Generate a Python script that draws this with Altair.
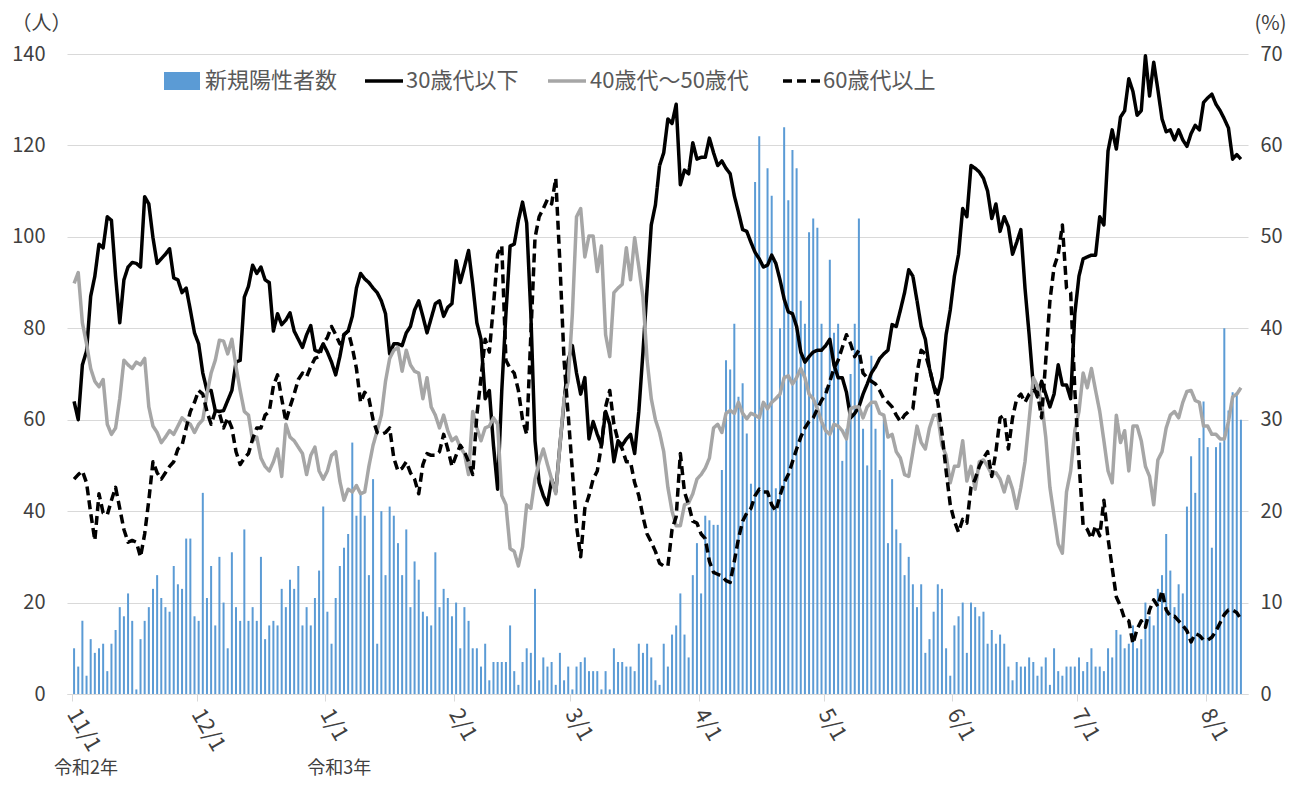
import altair as alt
import pandas as pd

# ---- data (daily, 2020-11-01 .. 2021-08-09) ----
new_cases = [
    10, 6, 16, 4, 12, 9, 10, 11, 5, 11,
    14, 19, 17, 22, 16, 1, 12, 16, 19, 23,
    26, 21, 19, 18, 28, 24, 23, 34, 34, 17,
    16, 44, 21, 28, 15, 30, 20, 10, 31, 19,
    16, 36, 16, 19, 16, 30, 12, 15, 16, 15,
    23, 19, 25, 23, 28, 15, 19, 15, 21, 27,
    41, 18, 11, 21, 28, 32, 35, 55, 39, 44,
    39, 26, 47, 11, 40, 26, 41, 39, 33, 26,
    36, 19, 29, 25, 18, 17, 15, 31, 19, 23,
    21, 17, 20, 10, 19, 16, 10, 10, 6, 11,
    3, 7, 7, 7, 7, 15, 5, 2, 7, 10,
    9, 23, 3, 8, 6, 7, 2, 9, 3, 6,
    1, 6, 7, 8, 5, 5, 5, 1, 5, 1,
    10, 7, 7, 6, 6, 5, 11, 9, 11, 8,
    3, 2, 11, 6, 13, 15, 22, 13, 8, 26,
    33, 22, 39, 38, 37, 37, 49, 73, 71, 81,
    65, 68, 57, 46, 112, 122, 63, 115, 109, 45,
    80, 124, 108, 119, 115, 86, 81, 101, 104, 102,
    81, 67, 95, 79, 81, 51, 58, 70, 81, 104,
    58, 50, 74, 58, 49, 60, 33, 47, 36, 33,
    26, 30, 24, 19, 24, 9, 12, 18, 24, 23,
    10, 4, 15, 17, 20, 9, 20, 19, 17, 18,
    11, 14, 11, 13, 11, 6, 3, 7, 6, 6,
    8, 7, 4, 6, 8, 2, 10, 5, 4, 6,
    6, 6, 8, 5, 7, 10, 6, 6, 5, 10,
    8, 14, 13, 10, 11, 15, 10, 12, 20, 17,
    15, 23, 26, 35, 27, 19, 24, 22, 41, 52,
    44, 56, 64, 54, 32, 54, 55, 80, 62, 66,
    66, 60,
]

under30 = [
    32, 30, 36, 37.5, 43.5, 45.7, 49.2, 48.8, 52.2, 51.8,
    45.7, 40.6, 45.3, 46.7, 47.2, 47.1, 46.7, 54.4, 53.6, 49.9,
    47.1, 47.6, 48.1, 48.7, 45.5, 45.3, 43.9, 44.4, 42, 39.5,
    38.3, 35.1, 33.2, 33.2, 31, 30.9, 31, 32.1, 33.2, 36.3,
    36.5, 43.4, 44.6, 46.9, 46, 46.7, 45.3, 45, 39.7, 41.6,
    40.4, 40.9, 41.7, 39.7, 38.8, 37.9, 39.3, 40.3, 37.6, 37.4,
    38.3, 37.4, 36.3, 34.9, 36.9, 39.3, 39.7, 41.3, 44.4, 46,
    45.4, 45, 44.4, 43.9, 43, 41.6, 37.2, 38.3, 38.3, 38.1,
    39.5, 40.2, 42, 43, 41.3, 39.5, 41.1, 42.7, 43, 41.3,
    42.3, 42.7, 47.4, 45, 46.7, 48.5, 44.8, 40.6, 38.8, 32.3,
    33.2, 27.2, 22.4, 33.2, 41.6, 49, 49.2, 51.8, 53.8, 51.5,
    41.6, 27.7, 23.1, 21.7, 20.7, 23.5, 22.1, 27.2, 31.9, 36.5,
    38.1, 35.1, 32.8, 34.6, 27.9, 29.8, 28.4, 27.2, 30.9, 29.5,
    25.4, 27.7, 27.2, 27.9, 28.4, 26.3, 30.9, 37.4, 44.4, 51.3,
    53.5, 57.8, 59.2, 62.9, 62.4, 64.5, 55.7, 57.3, 56.9, 60.3,
    58.5, 58.7, 58.7, 60.8, 59.2, 57.8, 58.3, 57.5, 56.9, 54.5,
    52.7, 50.8, 50.6, 49.4, 48.3, 47.6, 46.7, 46.9, 48, 47.1,
    45.3, 43.2, 41.8, 41.6, 40.2, 37.4, 36.3, 36.9, 37.4, 37.6,
    37.6, 38.1, 38.8, 36, 34.6, 34.6, 33, 30.2, 30.7, 31.4,
    32.8, 33.9, 35.1, 35.8, 36.7, 37.2, 37.6, 40.4, 40.2, 42,
    43.9, 46.4, 45.7, 43, 40.2, 38.8, 35.6, 33.7, 32.8, 34.6,
    39.3, 42, 45.7, 48.1, 53.1, 52.2, 57.8, 57.5, 57.1, 56.4,
    55, 52, 53.6, 50.6, 52.2, 51.1, 48.1, 49.4, 50.8, 44.4,
    39.3, 33.7, 32.5, 34.2, 32.8, 31.4, 32.8, 36, 33.8, 33.8,
    32.3, 41.6, 45.7, 47.6, 47.8, 48, 48, 52.2, 51.3, 59.4,
    61.7, 59.6, 63.1, 63.8, 67.3, 65.9, 63.3, 63.8, 69.8, 65.4,
    69.1, 66.1, 62.9, 61.5, 61.7, 60.6, 61.7, 60.6, 59.9, 61.3,
    62.2, 61.7, 64.7, 65.2, 65.6, 64.5, 63.8, 62.9, 61.9, 58.5,
    59, 58.5,
]

age40_50 = [
    44.9, 46.1, 40.6, 38.3, 35.6, 34.2, 33.6, 34.4, 29.5, 28.4,
    29.1, 32.3, 36.5, 36, 35.6, 36.3, 36, 36.7, 31.4, 29.3,
    28.6, 27.5, 28.1, 28.8, 28.4, 29.3, 30.2, 29.8, 29.5, 28.6,
    29.5, 30, 32.8, 35.1, 36.5, 38.7, 38.6, 37.2, 38.8, 35.8,
    33.2, 30.9, 30.5, 27.7, 28.1, 25.8, 24.9, 24.4, 25.4, 26.8,
    23.8, 29.5, 28.1, 27.7, 27, 26.3, 24, 26.1, 27, 24.4,
    23.5, 24.4, 26.1, 26.5, 23.3, 21.2, 22.4, 22.1, 22.8, 21.9,
    22.1, 24.9, 27.2, 28.8, 30.5, 34.2, 36.7, 37.6, 37.9, 35.3,
    37.6, 36, 35.3, 35.1, 32.3, 34.6, 31.4, 30.5, 29.1, 30.5,
    28.8, 27.7, 28.1, 27, 26.3, 24, 30.9, 29.1, 27.7, 29.1,
    29.3, 30.2, 29.5, 21.7, 20.7, 15.9, 15.6, 14, 16.1, 20.7,
    20.3, 23.5, 25.4, 26.8, 25.1, 23.5, 21.9, 27.2, 32.3, 34.2,
    41.6, 52.2, 53.1, 47.8, 50.1, 50.1, 46.2, 49, 39.3, 36.9,
    43.9, 44.4, 44.8, 48.8, 45.3, 49.9, 46.7, 43.4, 36.5, 32.3,
    30, 28.6, 26.5, 22.6, 20, 18.4, 18.4, 20.7, 20.9, 21.9,
    23.5, 24, 24.7, 25.8, 29.1, 29.5, 28.6, 30.7, 31, 30.7,
    31.9, 30.7, 30.1, 30.7, 30.5, 30.2, 31.9, 31.2, 31.9, 32.3,
    32.8, 34.6, 34.8, 33.9, 34.6, 35.6, 34.6, 32.8, 32.3, 31.2,
    29.8, 28.8, 28.4, 29.5, 29.3, 28.8, 27.9, 31.2, 31.4, 31.4,
    30.2, 31.4, 31.9, 31.9, 30.7, 30.5, 28.1, 28.4, 26.5, 25.8,
    24, 23.8, 26.5, 29.3, 27.5, 26.8, 29.1, 30.5, 30.5, 27.2,
    26.1, 23.1, 24.9, 24.9, 27.7, 23.3, 24.9, 22.4, 25.4, 25.6,
    24.9, 24, 24.2, 23.5, 22.1, 23.8, 22.4, 20.3, 22.6, 25.4,
    30, 34.6, 33.7, 31.9, 28.1, 22.6, 19.5, 16.4, 15.4, 22.1,
    24.4, 28.8, 30.9, 35.1, 33.5, 35.6, 33.2, 30.9, 27.7, 24.4,
    23.1, 30.5, 27.5, 28.8, 24.4, 29.3, 29.3, 27.7, 24.9, 23.8,
    20.7, 25.6, 26.5, 29.1, 30.5, 30.9, 30.2, 31.9, 33.1, 33.2,
    32.1, 31.9, 29.3, 29.3, 28.4, 28.4, 27.9, 27.9, 29.8, 32.5,
    32.8, 33.5,
]

over60 = [
    23.5, 24, 24.4, 23.1, 19.8, 16.8, 21.9, 19.8, 19.6, 21.2,
    22.6, 20.3, 18, 16.6, 16.8, 16.6, 15, 17.5, 21.2, 25.4,
    24.2, 23.5, 24.2, 24.9, 25.4, 26.8, 27.2, 29.1, 30.9, 31.9,
    33.2, 32.8, 30.9, 29.5, 30.9, 30.7, 29.1, 30.2, 29.1, 26.5,
    25.1, 25.8, 26.3, 27.9, 29.1, 29.1, 30.5, 30.9, 33.7, 34.9,
    32.3, 29.8, 31.4, 32.8, 34.4, 35.1, 34.7, 35.8, 36.7, 36.9,
    38.3, 39, 40.2, 39.3, 38.3, 39.3, 39.7, 37.9, 35.6, 31.9,
    33, 32.3, 30, 28.6, 28.4, 28.6, 29.1, 25.8, 24.4, 24.7,
    25.4, 24.2, 23.5, 21.9, 25.1, 26.3, 26.1, 26.1, 26.5, 28.4,
    26.8, 24.9, 26.1, 27.2, 26.5, 25.4, 24, 30.5, 34.6, 38.8,
    37.4, 42.5, 48.1, 49, 36.5, 35.6, 35.1, 33.2, 30, 28.4,
    39.3, 49.9, 52.2, 53.1, 54.1, 53.6, 56.4, 47.1, 36.5, 30.5,
    24.4, 18.4, 15, 20.3, 21.7, 23.5, 24.4, 27.2, 31.4, 33.2,
    29.5, 27.7, 26.8, 25.4, 25.4, 23.1, 21.7, 19.4, 17.5, 16.6,
    15.6, 14.3, 14, 14, 18, 19.4, 26.3, 22.1, 20.7, 18.9,
    18.7, 17.5, 17, 14.5, 13.3, 13.1, 12.9, 12.4, 12.2, 14.5,
    17, 18.9, 19.8, 20.3, 21.7, 22.4, 22.1, 22.1, 20.7, 20,
    21.7, 23.1, 24, 25.4, 26.8, 28.1, 29.1, 29.8, 30.2, 31.2,
    32.1, 32.8, 34.2, 35.6, 36.5, 37.9, 39.3, 38.3, 36.9, 37.6,
    35.1, 34.6, 34.2, 33.9, 33.2, 32.3, 31.9, 31.4, 30.5, 29.8,
    30.5, 30.9, 31.2, 35.1, 37.6, 37.2, 35.6, 33.7, 31.9, 28.6,
    24.4, 20.7, 18.9, 17.7, 19.1, 18.7, 22.6, 23.5, 24.9, 25.8,
    26.5, 23.8, 26.5, 30.2, 30.5, 26.8, 30.2, 32.3, 32.8, 31.9,
    32.8, 33.2, 33, 30.2, 36.5, 43, 46.7, 48.1, 51.3, 44.4,
    43.9, 33.2, 25.4, 18.4, 18, 17, 18.4, 17.3, 21.2, 17,
    13.8, 10.6, 9.6, 8.2, 8, 5.5, 7.1, 8, 7.3, 9.2,
    10.3, 9.6, 11.3, 9.2, 8.5, 8.5, 8, 7.5, 6.9, 5.7,
    6.6, 6.4, 5.9, 5.9, 6.2, 6.9, 7.8, 8.7, 9.2, 9.2,
    8.9, 8.2,
]

series_names = ["30歳代以下", "40歳代～50歳代", "60歳代以上"]
bar_name = "新規陽性者数"
era_labels = ["令和2年", "令和3年"]
era_dates = ["2020-11-01T00:00:00", "2021-01-01T00:00:00"]

# ---- tables ----
dates = pd.date_range("2020-11-01 12:00", periods=len(new_cases), freq="D")
bars_df = pd.DataFrame({"date": dates, "cases": new_cases})
lines_df = pd.concat(
    [
        pd.DataFrame({"date": dates, "series": name, "pct": vals, "k": i})
        for i, (name, vals) in enumerate(zip(series_names, [under30, age40_50, over60]))
    ],
    ignore_index=True,
)
era_df = pd.DataFrame({"date": era_dates, "label": era_labels})

FONT = "Noto Sans CJK JP"
TICK_COLOR = "#404040"
W, H = 1181, 640

month_ticks = [alt.DateTime(year=2020, month=m, date=1) for m in (11, 12)] + [
    alt.DateTime(year=2021, month=m, date=1) for m in range(1, 9)
]
x_scale = alt.Scale(
    domain=[alt.DateTime(year=2020, month=11, date=1), alt.DateTime(year=2021, month=8, date=10)],
    nice=False,
)
x_axis = alt.Axis(
    values=month_ticks,
    format="%-m/%-d",
    labelAngle=60,
    labelAlign="left",
    labelBaseline="middle",
    labelPadding=9,
    tickSize=7,
    tickColor="#d9d9d9",
    domainColor="#d9d9d9",
    grid=False,
    title=None,
    labelFontSize=22,
    labelColor=TICK_COLOR,
)

bars = alt.Chart(bars_df).mark_bar(size=2, color="#5b9bd5").encode(
    x=alt.X("date:T", scale=x_scale, axis=x_axis),
    y=alt.Y(
        "cases:Q",
        scale=alt.Scale(domain=[0, 140], nice=False),
        axis=alt.Axis(
            orient="left",
            values=list(range(0, 141, 20)),
            grid=True,
            gridColor="#d9d9d9",
            domain=False,
            ticks=False,
            labelPadding=22,
            labelFontSize=20,
            labelColor=TICK_COLOR,
            title="（人）",
            titleAngle=0,
            titleAlign="center",
            titleBaseline="middle",
            titleX=-26,
            titleY=-31,
            titleFontSize=20,
            titleFontWeight="normal",
            titleColor=TICK_COLOR,
        ),
    ),
)

lines = alt.Chart(lines_df).mark_line(strokeWidth=3.5, strokeJoin="round", strokeCap="butt").encode(
    x=alt.X("date:T", scale=x_scale, axis=x_axis),
    y=alt.Y(
        "pct:Q",
        scale=alt.Scale(domain=[0, 70], nice=False),
        axis=alt.Axis(
            orient="right",
            values=list(range(0, 71, 10)),
            grid=False,
            domain=False,
            ticks=False,
            labelPadding=12,
            labelFontSize=20,
            labelColor=TICK_COLOR,
            title="(%)",
            titleAngle=0,
            titleAlign="center",
            titleBaseline="middle",
            titleX=22,
            titleY=-31,
            titleFontSize=20,
            titleFontWeight="normal",
            titleColor=TICK_COLOR,
        ),
    ),
    color=alt.Color(
        "series:N",
        scale=alt.Scale(domain=series_names, range=["#000000", "#a6a6a6", "#000000"]),
        legend=None,
    ),
    strokeDash=alt.StrokeDash(
        "series:N",
        scale=alt.Scale(domain=series_names, range=[[1, 0], [1, 0], [9, 5]]),
        legend=None,
    ),
    order=alt.Order("k:Q"),
)

era_text = alt.Chart(era_df).mark_text(
    font=FONT, fontSize=18, color=TICK_COLOR, align="center", baseline="middle", dx=14
).encode(
    x=alt.X("date:T", scale=x_scale, axis=x_axis),
    y=alt.value(715),
    text="label:N",
)

# ---- manual legend ----
one = pd.DataFrame({"k": [0]})
LEG_Y = 27
leg_font = dict(font=FONT, fontSize=22, color="#595959", align="left", baseline="middle")

leg_bar_sw = alt.Chart(one).mark_rect(color="#5b9bd5").encode(
    x=alt.value(97), x2=alt.value(133), y=alt.value(LEG_Y - 9), y2=alt.value(LEG_Y + 9)
)
leg_bar_tx = alt.Chart(one).mark_text(**leg_font).encode(
    x=alt.value(138), y=alt.value(LEG_Y), text=alt.value(bar_name)
)
leg_l1 = alt.Chart(one).mark_rule(color="#000000", strokeWidth=3.5).encode(
    x=alt.value(298), x2=alt.value(336), y=alt.value(LEG_Y)
)
leg_t1 = alt.Chart(one).mark_text(**leg_font).encode(
    x=alt.value(339), y=alt.value(LEG_Y), text=alt.value(series_names[0])
)
leg_l2 = alt.Chart(one).mark_rule(color="#a6a6a6", strokeWidth=3.5).encode(
    x=alt.value(481), x2=alt.value(519), y=alt.value(LEG_Y)
)
leg_t2 = alt.Chart(one).mark_text(**leg_font).encode(
    x=alt.value(523), y=alt.value(LEG_Y), text=alt.value(series_names[1])
)
leg_l3 = alt.Chart(one).mark_rule(color="#000000", strokeWidth=3.5, strokeDash=[9, 5]).encode(
    x=alt.value(716), x2=alt.value(753), y=alt.value(LEG_Y)
)
leg_t3 = alt.Chart(one).mark_text(**leg_font).encode(
    x=alt.value(756), y=alt.value(LEG_Y), text=alt.value(series_names[2])
)

chart = (
    alt.layer(
        bars,
        lines,
        era_text,
        leg_bar_sw, leg_bar_tx, leg_l1, leg_t1, leg_l2, leg_t2, leg_l3, leg_t3,
    )
    .resolve_scale(y="independent")
    .properties(
        width=W,
        height=H,
        autosize=alt.AutoSizeParams(type="none"),
        padding={"left": 59, "top": 46, "right": 48, "bottom": 85},
    )
    .configure(font=FONT)
    .configure_view(stroke=None)
    .configure_axis(labelFont=FONT, titleFont=FONT)
)

chart.save("out.html", embed_options={"renderer": "svg", "actions": False})
